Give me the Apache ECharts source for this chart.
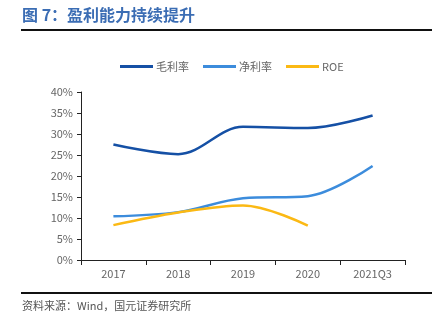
<!DOCTYPE html>
<html><head><meta charset="utf-8">
<script src="https://cdn.jsdelivr.net/npm/echarts@6/dist/echarts.min.js"></script>
<style>html,body{margin:0;padding:0;background:#fff}#c{width:432px;height:325px}</style>
</head><body><div id="c"></div>
<script>
const categories = ['2017','2018','2019','2020','2021Q3'];
const grossMargin = [27.5, 25.2, 31.7, 31.4, 34.4];
const netMargin = [10.4, 11.4, 14.7, 15.2, 22.4];
const roe = [8.3, 11.3, 13.0, 8.2, null];
const yTicks = [0, 5, 10, 15, 20, 25, 30, 35, 40];

const chart = echarts.init(document.getElementById('c'), null, {renderer:'canvas'});
const font = '"Noto Sans CJK SC", "Liberation Sans", sans-serif';
chart.setOption({
  animation:false,
  textStyle:{fontFamily:font},
  graphic:[
    {type:'text', left:22, top:7, style:{text:'图 7：盈利能力持续提升', fill:'#3b6db4', font:'bold 16px "Noto Sans CJK SC"'}},
    {type:'rect', shape:{x:21, y:29, width:411, height:2}, style:{fill:'#111'}},
    {type:'rect', shape:{x:21, y:292, width:411, height:2}, style:{fill:'#111'}},
    {type:'text', left:22, top:300, style:{text:'资料来源：Wind，国元证券研究所', fill:'#555', font:'11px "Noto Sans CJK SC"'}}
  ],
  legend:{
    top:56, left:115, itemWidth:33, itemHeight:3, itemGap:14,
    icon:'rect',
    textStyle:{color:'#666', fontSize:11, fontFamily:font, padding:[0,0,0,-2]},
    data:['毛利率','净利率','ROE']
  },
  grid:{left:81, right:27, top:92, bottom:65},
  xAxis:{
    type:'category', data:categories, boundaryGap:true,
    axisLine:{lineStyle:{color:'#222', width:1}},
    axisTick:{show:true, length:5, lineStyle:{color:'#222'}},
    axisLabel:{color:'#666', fontSize:11, margin:8}
  },
  yAxis:{
    type:'value', min:0, max:40, interval:5,
    axisLine:{show:true, lineStyle:{color:'#222'}},
    axisTick:{show:true, length:4, lineStyle:{color:'#222'}},
    splitLine:{show:false},
    axisLabel:{color:'#666', fontSize:11, formatter:v=>v+'%'}
  },
  series:[
    {name:'毛利率', type:'line', data:grossMargin, smooth:0.35, showSymbol:false, symbol:'none', lineStyle:{width:2.5, color:'#1550a5'}, itemStyle:{color:'#1550a5'}},
    {name:'净利率', type:'line', data:netMargin, smooth:0.35, showSymbol:false, symbol:'none', lineStyle:{width:2.5, color:'#3c8cdc'}, itemStyle:{color:'#3c8cdc'}},
    {name:'ROE', type:'line', data:roe, smooth:0.35, showSymbol:false, symbol:'none', lineStyle:{width:2.5, color:'#fbb914'}, itemStyle:{color:'#fbb914'}}
  ]
});
</script></body></html>
